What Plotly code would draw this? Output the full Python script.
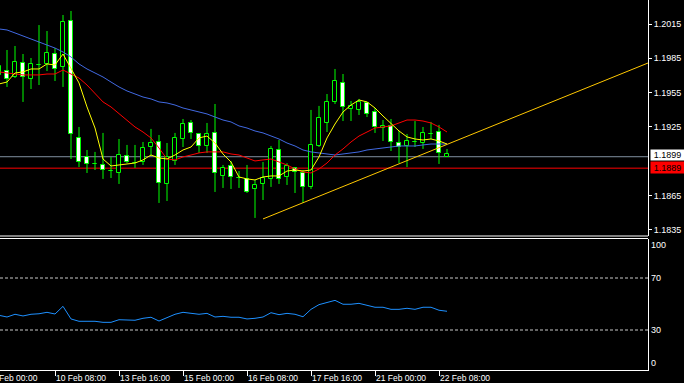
import plotly.graph_objects as go

# ---------------- data ----------------
opens = [1.19705, 1.19739, 1.19687, 1.19809, 1.19670, 1.19792, 1.19801, 1.19888, 1.19774, 1.20176,
         1.19154, 1.18988, 1.18927, 1.18918, 1.18865, 1.18848, 1.18997, 1.18934, 1.18944, 1.19075,
         1.19119, 1.18752, 1.18953, 1.19145, 1.19285, 1.19189, 1.19084, 1.19198, 1.18822, 1.18909,
         1.18804, 1.18796, 1.18708, 1.18752, 1.18796, 1.19049, 1.18813, 1.18892, 1.18848, 1.18726,
         1.19084, 1.19285, 1.19469, 1.19635, 1.19407, 1.19399, 1.19460, 1.19381, 1.19241, 1.19259,
         1.19110, 1.19084, 1.19119, 1.19110, 1.19189, 1.19206, 1.18988]
highs = [1.19818, 1.19923, 1.19958, 1.19888, 1.19853, 1.20141, 1.20089, 1.19940, 1.20229, 1.20264,
         1.19250, 1.19049, 1.19032, 1.19198, 1.18988, 1.19145, 1.19093, 1.19093, 1.19119, 1.19233,
         1.19180, 1.19110, 1.19198, 1.19320, 1.19311, 1.19198, 1.19285, 1.19451, 1.18918, 1.18953,
         1.18865, 1.18918, 1.18787, 1.18944, 1.19084, 1.19136, 1.18934, 1.18900, 1.18874, 1.19399,
         1.19434, 1.19538, 1.19757, 1.19713, 1.19477, 1.19495, 1.19469, 1.19416, 1.19311, 1.19320,
         1.19215, 1.19189, 1.19302, 1.19250, 1.19294, 1.19268, 1.19058]
lows = [1.19678, 1.19600, 1.19678, 1.19469, 1.19582, 1.19617, 1.19739, 1.19652, 1.19600, 1.18970,
        1.18900, 1.18848, 1.18874, 1.18796, 1.18804, 1.18752, 1.18934, 1.18892, 1.18918, 1.18997,
        1.18586, 1.18603, 1.18918, 1.19075, 1.19145, 1.19023, 1.19023, 1.18682, 1.18717, 1.18708,
        1.18717, 1.18673, 1.18455, 1.18612, 1.18726, 1.18752, 1.18743, 1.18673, 1.18586, 1.18708,
        1.19075, 1.19206, 1.19451, 1.19302, 1.19302, 1.19355, 1.19337, 1.19198, 1.19128, 1.19040,
        1.18934, 1.18900, 1.19075, 1.19058, 1.19145, 1.18927, 1.18988]
closes = [1.19783, 1.19670, 1.19818, 1.19687, 1.19801, 1.19795, 1.19897, 1.19757, 1.20168, 1.19189,
          1.18944, 1.18927, 1.18930, 1.18874, 1.18868, 1.19005, 1.18944, 1.18937, 1.19066, 1.19110,
          1.18761, 1.18988, 1.19154, 1.19276, 1.19198, 1.19084, 1.19189, 1.18848, 1.18892, 1.18813,
          1.18807, 1.18682, 1.18743, 1.18804, 1.19058, 1.18796, 1.18909, 1.18857, 1.18726, 1.19093,
          1.19329, 1.19469, 1.19652, 1.19425, 1.19434, 1.19469, 1.19364, 1.19250, 1.19259, 1.19119,
          1.19075, 1.19128, 1.19122, 1.19198, 1.19192, 1.19023, 1.19014]

ma_fast = [1.19626, 1.19643, 1.19722, 1.19731, 1.19757, 1.19757, 1.19801, 1.19792, 1.19888, 1.19766,
           1.19635, 1.19425, 1.19241, 1.18970, 1.18909, 1.18918, 1.18927, 1.18935, 1.18962, 1.19005,
           1.18979, 1.18970, 1.19005, 1.19049, 1.19075, 1.19154, 1.19171, 1.19110, 1.19014, 1.18944,
           1.18813, 1.18796, 1.18787, 1.18813, 1.18822, 1.18822, 1.18865, 1.18874, 1.18865, 1.18874,
           1.18988, 1.19154, 1.19276, 1.19381, 1.19442, 1.19486, 1.19469, 1.19416, 1.19346, 1.19276,
           1.19215, 1.19163, 1.19145, 1.19136, 1.19145, 1.19128, 1.19101]
ma_mid = [1.19731, 1.19722, 1.19713, 1.19705, 1.19705, 1.19705, 1.19713, 1.19713, 1.19748, 1.19713,
          1.19678, 1.19617, 1.19547, 1.19469, 1.19425, 1.19364, 1.19311, 1.19250, 1.19206, 1.19154,
          1.19066, 1.18970, 1.18962, 1.18988, 1.19005, 1.19023, 1.19032, 1.19032, 1.19032, 1.19014,
          1.19005, 1.18979, 1.18953, 1.18962, 1.18970, 1.18944, 1.18918, 1.18883, 1.18857, 1.18848,
          1.18883, 1.18935, 1.19005, 1.19058, 1.19119, 1.19171, 1.19206, 1.19241, 1.19250, 1.19259,
          1.19285, 1.19311, 1.19311, 1.19302, 1.19285, 1.19250, 1.19206]
ma_slow = [1.20107, 1.20098, 1.20072, 1.20045, 1.20019, 1.19993, 1.19967, 1.19940, 1.19906, 1.19862,
           1.19801, 1.19757, 1.19722, 1.19687, 1.19643, 1.19600, 1.19565, 1.19538, 1.19512, 1.19495,
           1.19469, 1.19460, 1.19442, 1.19416, 1.19399, 1.19381, 1.19364, 1.19337, 1.19311, 1.19294,
           1.19259, 1.19241, 1.19215, 1.19198, 1.19171, 1.19145, 1.19110, 1.19084, 1.19049, 1.19032,
           1.19023, 1.19014, 1.19005, 1.19014, 1.19023, 1.19032, 1.19049, 1.19058, 1.19066, 1.19075,
           1.19084, 1.19084, 1.19084, 1.19093, 1.19101, 1.19101, 1.19101]

osc = [41.3, 40.0, 42.1, 40.8, 42.1, 42.5, 43.6, 42.3, 48.2, 38.5,
       36.7, 36.7, 36.7, 35.9, 35.9, 37.9, 37.5, 37.5, 39.0, 39.8,
       36.9, 39.8, 42.1, 43.6, 42.8, 42.1, 42.8, 40.0, 40.5, 39.8,
       39.8, 38.5, 39.0, 40.0, 43.3, 41.8, 42.8, 42.1, 40.2, 45.9,
       49.5, 51.3, 52.8, 49.8, 49.8, 50.5, 49.2, 47.5, 47.5, 45.9,
       45.9, 46.7, 45.9, 47.5, 47.5, 45.2, 44.4]

date_ticks = [-1, 7, 15, 23, 31, 39, 47, 55]
date_labels = ["9 Feb 00:00", "10 Feb 08:00", "13 Feb 16:00", "15 Feb 00:00",
               "16 Feb 08:00", "17 Feb 16:00", "21 Feb 00:00", "22 Feb 08:00"]
price_ticks = [1.2015, 1.1985, 1.1955, 1.1925, 1.1865, 1.1835]
osc_ticks = [100, 70, 30, 0]
osc_levels = [70, 30]
bid_price = 1.1899
line_price = 1.1889
trend_x = [33, 82]
trend_y = [1.18446, 1.19834]

# ---------------- figure ----------------
FONT = "Liberation Sans"
n = len(closes)
idx = list(range(n))
x_range = [0.125, 81.125]
y_range = [1.18297, 1.20360]
osc_range = [-0.77, 100]

body_lo = [min(o, c) for o, c in zip(opens, closes)]
body_hi = [max(o, c) for o, c in zip(opens, closes)]
body_h = [max(h - l, 0.00002) for h, l in zip(body_hi, body_lo)]
is_up = [c >= o for o, c in zip(opens, closes)]

wx, wy = [], []
for i in idx:
    wx += [i, i, None, i, i, None]
    wy += [highs[i], body_hi[i], None, body_lo[i], lows[i], None]

fig = go.Figure()
fig.add_trace(go.Scatter(x=wx, y=wy, mode="lines", line=dict(color="#00FF00", width=1),
                         yaxis="y", hoverinfo="skip"))
for flag, fill in [(True, "#000000"), (False, "#FFFFFF")]:
    sel = [i for i in idx if is_up[i] == flag]
    fig.add_trace(go.Bar(x=sel, base=[body_lo[i] for i in sel], y=[body_h[i] for i in sel],
                         width=0.55, yaxis="y",
                         marker=dict(color=fill, line=dict(color="#00FF00", width=1))))

fig.add_trace(go.Scatter(x=idx, y=ma_slow, mode="lines", line=dict(color="#4169E1", width=1), yaxis="y"))
fig.add_trace(go.Scatter(x=idx, y=ma_mid, mode="lines", line=dict(color="#FF0000", width=1), yaxis="y"))
fig.add_trace(go.Scatter(x=idx, y=ma_fast, mode="lines", line=dict(color="#FFFF00", width=1), yaxis="y"))
fig.add_trace(go.Scatter(x=trend_x, y=trend_y, mode="lines", line=dict(color="#FFC800", width=1), yaxis="y"))
fig.add_trace(go.Scatter(x=idx, y=osc, mode="lines", line=dict(color="#1E90FF", width=1), yaxis="y2"))

# horizontal price lines
fig.add_shape(type="line", xref="paper", x0=0, x1=1, yref="y", y0=bid_price, y1=bid_price,
              line=dict(color="#8090A0", width=1), layer="below")
fig.add_shape(type="line", xref="paper", x0=0, x1=1, yref="y", y0=line_price, y1=line_price,
              line=dict(color="#FF0000", width=1), layer="below")
# oscillator levels
for lv in osc_levels:
    fig.add_shape(type="line", xref="paper", x0=0, x1=1, yref="y2", y0=lv, y1=lv,
                  line=dict(color="#C8C8C8", width=1, dash="3px,2px"))
# separator double line
for py in [1 - 236 / 370, 1 - 238.5 / 370]:
    fig.add_shape(type="line", xref="paper", x0=0, x1=1, yref="paper", y0=py, y1=py,
                  line=dict(color="white", width=1))

# date labels (left aligned at tick, MT style)
for t, lab in zip(date_ticks, date_labels):
    px = (t - x_range[0]) / (x_range[1] - x_range[0])
    fig.add_annotation(x=px, xref="paper", y=0, yref="paper", text=lab, showarrow=False,
                       xanchor="left", yanchor="top", xshift=0, yshift=-2, borderpad=0,
                       font=dict(color="white", size=8.5, family=FONT))

# oscillator axis labels
for v in osc_ticks:
    shift = -6 if v == 100 else (6 if v == 0 else 0)
    fig.add_annotation(x=1, xref="paper", y=v, yref="y2", text=str(v), showarrow=False,
                       xanchor="left", xshift=2, yshift=shift, borderpad=0,
                       font=dict(color="white", size=9, family=FONT))

# price boxes
fig.add_annotation(x=1, xref="paper", y=bid_price, yref="y", text=f"{bid_price:.4f}", showarrow=False,
                   xanchor="left", xshift=2, yshift=1.5, bgcolor="white", width=33, height=10,
                   borderpad=0, font=dict(color="black", size=9, family=FONT))
fig.add_annotation(x=1, xref="paper", y=line_price, yref="y", text=f"{line_price:.4f}", showarrow=False,
                   xanchor="left", xshift=2, yshift=0.5, bgcolor="#FF0000", width=33, height=11,
                   borderpad=0, font=dict(color="black", size=9, family=FONT))

fig.update_layout(
    width=684, height=383, margin=dict(l=0, r=36, t=0, b=13),
    paper_bgcolor="black", plot_bgcolor="black", showlegend=False,
    barmode="overlay", bargap=0, hovermode=False,
    xaxis=dict(range=x_range, anchor="y2", showgrid=False, zeroline=False, showline=True,
               linecolor="white", linewidth=1, ticks="outside", ticklen=5, tickcolor="white",
               tickvals=date_ticks, showticklabels=False, fixedrange=True),
    yaxis=dict(domain=[1 - 236 / 370, 1], range=y_range, side="right", anchor="x",
               showgrid=False, zeroline=False, showline=True, linecolor="white", linewidth=1,
               ticks="outside", ticklen=3, tickcolor="white", tickvals=price_ticks,
               tickformat=".4f", tickfont=dict(color="white", size=9, family=FONT)),
    yaxis2=dict(domain=[0, 131 / 370], range=osc_range, side="right", anchor="x",
                showgrid=False, zeroline=False, showline=True, linecolor="white", linewidth=1,
                showticklabels=False, ticks=""),
)

fig.write_html("out.html", config={"displayModeBar": False},
               post_script="document.body.style.margin='0';document.body.style.overflow='hidden';")
